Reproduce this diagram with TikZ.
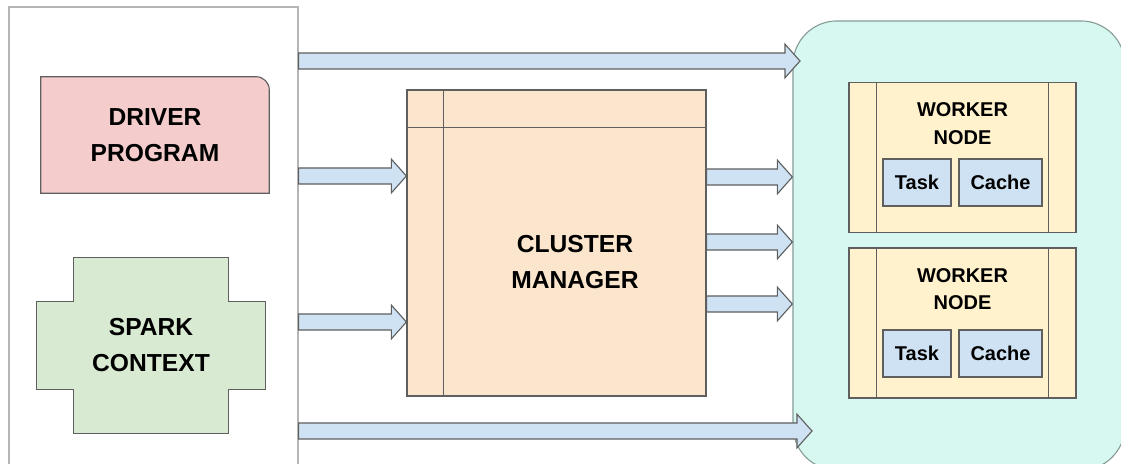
\documentclass[tikz,border=0pt]{standalone}
\usepackage{fontspec}
\setmainfont{Liberation Sans}
\usetikzlibrary{calc,backgrounds}

\definecolor{linegray}{HTML}{5F5F5F}
\definecolor{panelgray}{HTML}{B5B5B5}
\definecolor{areaedge}{HTML}{889C97}
\definecolor{drvpink}{HTML}{F4CCCC}
\definecolor{sparkgreen}{HTML}{D9EAD3}
\definecolor{cmorange}{HTML}{FCE5CD}
\definecolor{workcyan}{HTML}{D7F8F0}
\definecolor{workyellow}{HTML}{FFF2CC}
\definecolor{taskblue}{HTML}{CFE2F3}

% fat outlined arrow between two points on one row
\newcommand{\blockarrow}[2]{%
	\filldraw[flow] let \p1=#1, \p2=#2 in
	    (\x1,\y1+5.7pt) -- (\x2-10.7pt,\y1+5.7pt) -- (\x2-10.7pt,\y1+12pt) -- (\x2,\y1)
	    -- (\x2-10.7pt,\y1-12pt) -- (\x2-10.7pt,\y1-5.7pt) -- (\x1,\y1-5.7pt) -- cycle;%
}

\begin{document}
\begin{tikzpicture}[x=0.025cm,y=-0.025cm,
	box/.style={draw=linegray, line width=0.8pt, inner sep=0pt},
	title/.style={font=\fontsize{17.5}{25.6}\selectfont\bfseries, align=center},
	small/.style={font=\fontsize{14.2}{19.5}\selectfont\bfseries, align=center},
	flow/.style={draw=linegray, fill=taskblue, line width=0.8pt}]
	\useasboundingbox (0,0) rectangle (1121,463);

	% driver side and worker side
	\node[box, draw=panelgray, minimum width=7.225cm, minimum height=11.825cm] (master) at (153.5,243.5) {};
	\node[box, draw=areaedge, fill=workcyan, rounded corners=1.1cm,
	      minimum width=8.3cm, minimum height=11.225cm] (workers) at (959,245.5) {};

	\node[title, minimum width=5.7cm, minimum height=2.9cm] (drv) at (155,135) {DRIVER\\PROGRAM};
	\node[title, minimum width=5.7cm, minimum height=4.375cm] (spark) at (151,345.5) {SPARK\\CONTEXT};
	\begin{scope}[on background layer]
	    \draw[box, fill=drvpink] (drv.south west) -- (drv.north west) -- ([xshift=-0.33cm]drv.north east)
		arc (90:0:0.33cm) -- (drv.south east) -- cycle;
	    \draw[box, fill=sparkgreen] ([xshift=0.925cm]spark.north west) -- ([xshift=-0.925cm]spark.north east)
		-- ++(0,-1.1cm) -- ++(0.925cm,0) -- ([yshift=1.1cm]spark.south east) -- ++(-0.925cm,0)
		-- ([xshift=-0.925cm]spark.south east) -- ([xshift=0.925cm]spark.south west) -- ++(0,1.1cm)
		-- ++(-0.925cm,0) -- ([yshift=-1.1cm]spark.north west) -- ++(0.925cm,0) -- cycle;
	\end{scope}

	% cluster manager
	\node[box, fill=cmorange, minimum width=7.475cm, minimum height=7.65cm] (cm) at (556.5,243) {};
	\draw[box] ([xshift=0.925cm]cm.north west) -- ([xshift=0.925cm]cm.south west);
	\draw[box] ([yshift=-0.95cm]cm.north west) -- ([yshift=-0.95cm]cm.north east);
	\node[title] (cmtext) at (575,262) {CLUSTER\\MANAGER};

	% worker nodes
	\foreach \n/\y/\t in {1/157.5/182.5, 2/323/353.5}
	    {
		\node[box, fill=workyellow, minimum width=5.675cm, minimum height=3.75cm] (wn\n) at (962.5,\y) {};
		\draw[box] ([xshift=0.7cm]wn\n.north west) -- ([xshift=0.7cm]wn\n.south west);
		\draw[box] ([xshift=-0.7cm]wn\n.north east) -- ([xshift=-0.7cm]wn\n.south east);
		\node[small] (wt\n) at (962.5,\y-34) {WORKER\\NODE};
		\node[box, small, fill=taskblue, minimum width=1.7cm, minimum height=1.175cm] (task\n) at (917,\t) {Task};
		\node[box, small, fill=taskblue, minimum width=2.075cm, minimum height=1.175cm] (cache\n) at (1000.5,\t) {Cache};
	    }

	% arrows
	\coordinate (toprow) at (800,61);
	\coordinate (botrow) at (812,431);
	\blockarrow{(master.east |- toprow)}{(toprow)}
	\blockarrow{(master.east |- botrow)}{(botrow)}
	\foreach \y in {176,322}
	    {
		\coordinate (row) at (0,\y);
		\blockarrow{(master.east |- row)}{(cm.west |- row)}
	    }
	\foreach \y in {177,242,304}
	    {
		\coordinate (row) at (0,\y);
		\blockarrow{(cm.east |- row)}{(workers.west |- row)}
	    }
\end{tikzpicture}
\end{document}
